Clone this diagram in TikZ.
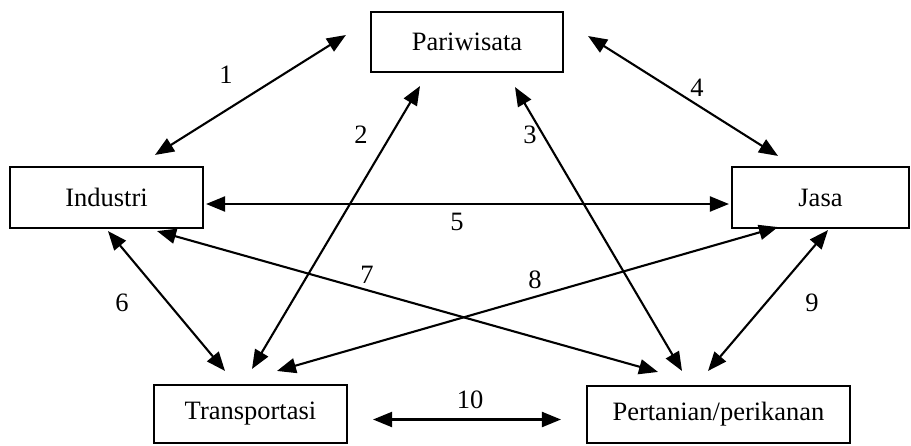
\documentclass[tikz,border=0pt]{standalone}
\usepackage{fontspec}
\setmainfont{Liberation Serif}
\usetikzlibrary{arrows.meta,calc}
\begin{document}
\begin{tikzpicture}[x=1pt,y=-1pt,
  lbl/.style={font=\fontsize{26.5}{30}\selectfont},
  box/.style={lbl,draw,line width=2.1pt,rectangle,inner sep=0pt},
  link/.style={line width=2.1pt,{Triangle[length=19pt,width=15pt]}-{Triangle[length=19pt,width=15pt]}}]
\useasboundingbox (0,0) rectangle (911,445);

% sectors
\node[box,minimum width=192pt,minimum height=60pt] (par) at (467,42) {Pariwisata};
\node[box,minimum width=193pt,minimum height=61pt] (ind) at (106.5,197.5) {Industri};
\node[box,minimum width=177pt,minimum height=61pt] (jas) at (820.5,197.5) {Jasa};
\node[box,minimum width=193pt,minimum height=58pt] (tra) at (250.5,414) {Transportasi};
\node[box,minimum width=263pt,minimum height=57pt] (per) at (718.5,414.5) {Pertanian/perikanan};

% linkages
\draw[link] ($(par.west)+(-24,-7)$) -- ($(ind.north)+(48.5,-11)$);
\draw[link] ($(par.south)+(-47,13)$) -- ($(tra.north)+(1.5,-15)$);
\draw[link] ($(par.south)+(48,14)$) -- ($(per.north)+(-36.5,-14)$);
\draw[link] ($(par.east)+(24,-6)$) -- ($(jas.north)+(-42.5,-10)$);
\draw[link] ($(ind.east)+(2,6.5)$) -- ($(jas.west)+(-2,6.5)$);
\draw[link] ($(ind.south)+(1.5,2)$) -- ($(tra.north)+(-25.5,-13)$);
\draw[link] ($(ind.south)+(50.5,2)$) -- ($(per.north)+(-60.5,-13)$);
\draw[link] ($(jas.south)+(-42.5,-2)$) -- ($(tra.north)+(26.5,-13)$);
\draw[link] ($(jas.south)+(7.5,1)$) -- ($(per.north)+(-10.5,-14)$);
\draw[link] ($(tra.east)+(25,5.5)$) -- ($(per.west)+(-25,5)$);

% link numbers
\node[lbl] (n1) at (226,75) {1};
\node[lbl] (n2) at (361,135) {2};
\node[lbl] (n3) at (530,135) {3};
\node[lbl] (n4) at (697,88) {4};
\node[lbl] (n5) at (457,222) {5};
\node[lbl] (n6) at (122,303) {6};
\node[lbl] (n7) at (367,275) {7};
\node[lbl] (n8) at (535,280) {8};
\node[lbl] (n9) at (812,303) {9};
\node[lbl] (n10) at (470,400) {10};
\end{tikzpicture}
\end{document}
